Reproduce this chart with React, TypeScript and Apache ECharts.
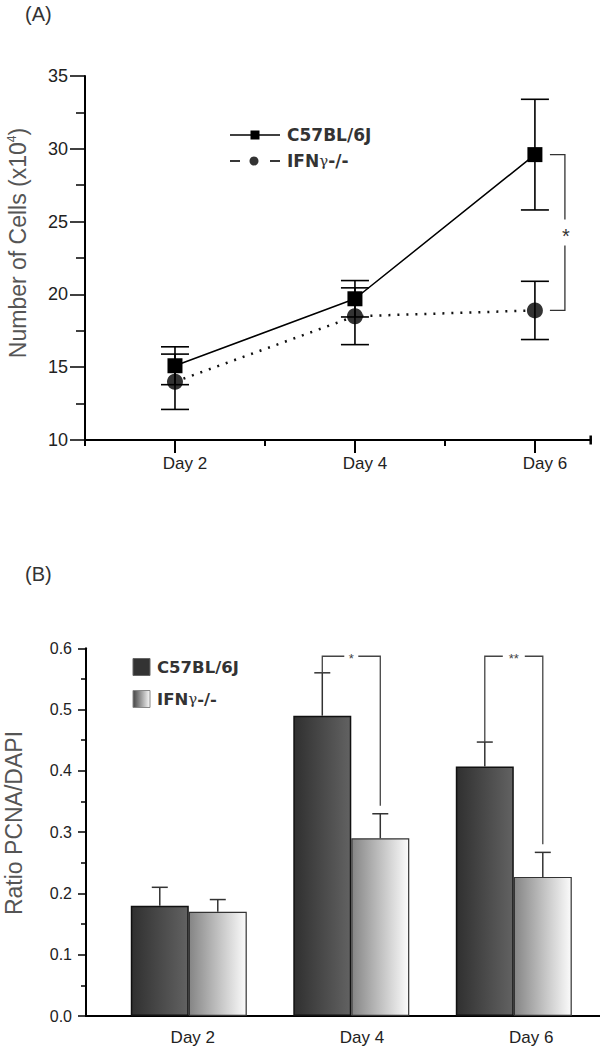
import React, { useEffect, useRef } from 'react';
import * as echarts from 'echarts';

// ---------- Panel A data ----------
const daysA = [2, 4, 6];
const c57Mean = [15.1, 19.7, 29.6];
const c57Err = [1.3, 1.25, 3.8];
const ifnMean = [14.0, 18.5, 18.9];
const ifnErr = [1.9, 1.95, 2.0];
const sigDayA = 6;
const sigLabelA = '*';

// ---------- Panel B data ----------
const daysB = [2, 4, 6];
const c57Ratio = [0.18, 0.49, 0.407];
const c57RatioErr = [0.03, 0.07, 0.04];
const ifnRatio = [0.17, 0.29, 0.227];
const ifnRatioErr = [0.02, 0.04, 0.04];
const sigDaysB = [4, 6];
const sigLabelsB = ['*', '**'];
const bracketLevelB = 0.587;

const dayLabels = [2, 4, 6];

const FONT = '"Liberation Sans", Arial, sans-serif';
const LEG_FONT = '"DejaVu Sans", "Liberation Sans", sans-serif';
const BAR_W = 58;

function errSeries(
  days: number[], mean: number[], err: number[], xi: number, yi: number,
  offset: number, capHalf: number, upOnly: boolean, color: string, width: number
) {
  return {
    type: 'custom',
    xAxisIndex: xi,
    yAxisIndex: yi,
    z: 10,
    silent: true,
    data: days.map((d, i) => [d, mean[i], err[i]]),
    encode: { x: 0, y: 1 },
    renderItem: (params: any, api: any) => {
      const x = api.value(0);
      const m = api.value(1);
      const e = api.value(2);
      const top = api.coord([x, m + e]);
      const bot = api.coord([x, upOnly ? m : m - e]);
      const cx = top[0] + offset;
      const style = { stroke: color, lineWidth: width, fill: 'none' };
      const children: any[] = [
        { type: 'line', shape: { x1: cx, y1: top[1], x2: cx, y2: bot[1] }, style },
        { type: 'line', shape: { x1: cx - capHalf, y1: top[1], x2: cx + capHalf, y2: top[1] }, style },
      ];
      if (!upOnly) {
        children.push({ type: 'line', shape: { x1: cx - capHalf, y1: bot[1], x2: cx + capHalf, y2: bot[1] }, style });
      }
      return { type: 'group', children };
    },
  };
}

export default function App() {
  const ref = useRef<HTMLDivElement>(null);
  useEffect(() => {
    if (!ref.current) return;
    const chart = echarts.init(ref.current, null, { renderer: 'svg' });

    const gradDark = new echarts.graphic.LinearGradient(0, 0, 1, 0, [
      { offset: 0, color: '#303030' },
      { offset: 1, color: '#626262' },
    ]);
    const gradLight = new echarts.graphic.LinearGradient(0, 0, 1, 0, [
      { offset: 0, color: '#858585' },
      { offset: 1, color: '#fbfbfb' },
    ]);
    const gradLegend = new echarts.graphic.LinearGradient(0, 0, 1, 0, [
      { offset: 0, color: '#444' },
      { offset: 1, color: '#fafafa' },
    ]);

    const axisLineStyle = { color: '#000', width: 2 };
    const tickStyle = { color: '#000', width: 1.5 };

    const idxA = daysA.indexOf(sigDayA);

    const option: any = {
      animation: false,
      grid: [
        { left: 85, top: 76, width: 505.7, height: 364 },
        { left: 86, top: 648.3, width: 514, height: 367.7 },
      ],
      xAxis: [
        {
          type: 'value', gridIndex: 0, position: 'bottom', min: 1, max: 6.62, interval: 1,
          axisLine: { show: true, lineStyle: axisLineStyle, symbol: ['none', 'rect'], symbolSize: [9, 2.5] },
          axisTick: { show: true, customValues: dayLabels, length: 13, lineStyle: { color: '#000', width: 2 } },
          axisLabel: {
            show: true, customValues: dayLabels, formatter: 'Day {value}', fontSize: 17,
            color: '#222', margin: 15, padding: [0, 0, 0, 20], fontFamily: FONT,
          },
          splitLine: { show: false },
        },
        {
          type: 'value', gridIndex: 0, position: 'bottom', min: 1, max: 6.62, interval: 1,
          axisLine: { show: false },
          axisTick: { show: true, customValues: [1, 3, 5], length: 6, lineStyle: { color: '#000', width: 2 } },
          axisLabel: { show: false },
          splitLine: { show: false },
        },
        {
          type: 'value', gridIndex: 1, position: 'bottom', min: 0.735, max: 7.061,
          axisLine: { show: true, lineStyle: axisLineStyle },
          axisTick: { show: false },
          axisLabel: { show: false },
          splitLine: { show: false },
        },
        {
          type: 'value', gridIndex: 1, position: 'bottom', min: 0.737, max: 6.814,
          axisLine: { show: false },
          axisTick: { show: false },
          axisLabel: {
            show: true, customValues: dayLabels, formatter: 'Day {value}', fontSize: 17,
            color: '#222', margin: 13, fontFamily: FONT,
          },
          splitLine: { show: false },
        },
      ],
      yAxis: [
        {
          type: 'value', gridIndex: 0, min: 10, max: 35, interval: 5,
          axisLine: { show: true, lineStyle: axisLineStyle },
          axisTick: { show: true, length: 15, lineStyle: tickStyle },
          minorTick: { show: true, splitNumber: 2, length: 9, lineStyle: tickStyle },
          axisLabel: { fontSize: 18, color: '#222', margin: 17, fontFamily: FONT },
          splitLine: { show: false },
        },
        {
          type: 'value', gridIndex: 1, min: 0, max: 0.6, interval: 0.1,
          axisLine: { show: true, lineStyle: axisLineStyle },
          axisTick: { show: true, length: 8, lineStyle: tickStyle },
          minorTick: { show: true, splitNumber: 2, length: 5, lineStyle: tickStyle },
          axisLabel: { fontSize: 16, color: '#222', margin: 14, fontFamily: FONT, formatter: (v: number) => v.toFixed(1) },
          splitLine: { show: false },
        },
      ],
      series: [
        {
          type: 'line', name: 'C57BL/6J', xAxisIndex: 0, yAxisIndex: 0,
          data: daysA.map((d, i) => [d, c57Mean[i]]),
          symbol: 'rect', symbolSize: 15,
          itemStyle: { color: '#000' },
          lineStyle: { color: '#000', width: 1.5 },
          z: 5,
        },
        {
          type: 'line', name: 'IFNγ-/-', xAxisIndex: 0, yAxisIndex: 0,
          data: daysA.map((d, i) => [d, ifnMean[i]]),
          symbol: 'circle', symbolSize: 16,
          itemStyle: { color: '#333' },
          lineStyle: { color: '#111', width: 2.5, type: [2, 7] },
          z: 4,
        },
        errSeries(daysA, c57Mean, c57Err, 0, 0, 0, 14, false, '#000', 1.6),
        errSeries(daysA, ifnMean, ifnErr, 0, 0, 0, 14, false, '#000', 1.6),
        {
          type: 'custom', xAxisIndex: 0, yAxisIndex: 0, silent: true, z: 10,
          data: [[sigDayA, c57Mean[idxA], ifnMean[idxA]]],
          encode: { x: 0, y: 1 },
          renderItem: (params: any, api: any) => {
            const x = api.value(0);
            const p1 = api.coord([x, api.value(1)]);
            const p2 = api.coord([x, api.value(2)]);
            const xl = p1[0] + 15;
            const xr = p1[0] + 30;
            const mid = (p1[1] + p2[1]) / 2;
            const style = { stroke: '#333', lineWidth: 1.3, fill: 'none' };
            return {
              type: 'group',
              children: [
                { type: 'polyline', shape: { points: [[xl, p1[1]], [xr, p1[1]], [xr, mid - 13]] }, style },
                { type: 'polyline', shape: { points: [[xr, mid + 13], [xr, p2[1]], [xl, p2[1]]] }, style },
                {
                  type: 'text', x: xr + 1, y: mid + 3,
                  style: { text: sigLabelA, fontSize: 20, fill: '#333', align: 'center', verticalAlign: 'middle', textAlign: 'center', textVerticalAlign: 'middle', fontFamily: FONT },
                },
              ],
            };
          },
        },
        {
          type: 'bar', name: 'C57BL/6J', xAxisIndex: 2, yAxisIndex: 1,
          data: daysB.map((d, i) => [d, c57Ratio[i]]),
          barWidth: BAR_W, barGap: '0%',
          itemStyle: { color: gradDark, borderColor: '#111', borderWidth: 1.5 },
        },
        {
          type: 'bar', name: 'IFNγ-/-', xAxisIndex: 2, yAxisIndex: 1,
          data: daysB.map((d, i) => [d, ifnRatio[i]]),
          barWidth: BAR_W, barGap: '0%',
          itemStyle: { color: gradLight, borderColor: '#333', borderWidth: 1.2 },
        },
        errSeries(daysB, c57Ratio, c57RatioErr, 2, 1, -BAR_W / 2, 8, true, '#333', 1.5),
        errSeries(daysB, ifnRatio, ifnRatioErr, 2, 1, BAR_W / 2, 8, true, '#333', 1.5),
        {
          type: 'custom', xAxisIndex: 2, yAxisIndex: 1, silent: true, z: 10,
          data: sigDaysB.map((d, k) => {
            const i = daysB.indexOf(d);
            return [d, c57Ratio[i] + c57RatioErr[i], ifnRatio[i] + ifnRatioErr[i], k];
          }),
          encode: { x: 0, y: 1 },
          renderItem: (params: any, api: any) => {
            const x = api.value(0);
            const c = api.coord([x, api.value(1)]);
            const f = api.coord([x, api.value(2)]);
            const lv = api.coord([x, bracketLevelB]);
            const label = sigLabelsB[api.value(3)];
            const xl = c[0] - BAR_W / 2;
            const xr = c[0] + BAR_W / 2;
            const mid = c[0];
            const gap = label.length * 4 + 3;
            const style = { stroke: '#444', lineWidth: 1.3, fill: 'none' };
            return {
              type: 'group',
              children: [
                { type: 'polyline', shape: { points: [[xl, c[1]], [xl, lv[1]], [mid - gap, lv[1]]] }, style },
                { type: 'polyline', shape: { points: [[mid + gap, lv[1]], [xr, lv[1]], [xr, f[1] - 8]] }, style },
                {
                  type: 'text', x: mid, y: lv[1] + 2,
                  style: { text: label, fontSize: 13, fill: '#444', align: 'center', verticalAlign: 'middle', textAlign: 'center', textVerticalAlign: 'middle', fontFamily: FONT },
                },
              ],
            };
          },
        },
      ],
      graphic: [
        { type: 'text', x: 25, y: 14, style: { text: '(A)', fontSize: 20, fill: '#333', fontFamily: FONT, verticalAlign: 'middle', textVerticalAlign: 'middle' } },
        { type: 'text', x: 25, y: 574, style: { text: '(B)', fontSize: 20, fill: '#333', fontFamily: FONT, verticalAlign: 'middle', textVerticalAlign: 'middle' } },
        {
          type: 'text', x: 17.5, y: 243, rotation: Math.PI / 2,
          style: {
            text: '{a|Number of Cells (x10}{s|4}{a|)}',
            align: 'center', verticalAlign: 'middle', textAlign: 'center', textVerticalAlign: 'middle',
            fill: '#555', fontFamily: FONT, fontSize: 23,
            rich: {
              a: { fontSize: 23, fill: '#555', color: '#555', fontFamily: FONT },
              s: { fontSize: 12, fill: '#555', color: '#555', fontFamily: FONT, padding: [0, 0, 12, 0] },
            },
          },
        },
        {
          type: 'text', x: 14, y: 823, rotation: Math.PI / 2,
          style: {
            text: 'Ratio PCNA/DAPI', fontSize: 23, fill: '#555', fontFamily: FONT,
            align: 'center', verticalAlign: 'middle', textAlign: 'center', textVerticalAlign: 'middle',
          },
        },
        // Legend A
        { type: 'line', shape: { x1: 230, y1: 135, x2: 280, y2: 135 }, style: { stroke: '#000', lineWidth: 1.5 } },
        { type: 'rect', shape: { x: 250.5, y: 130.5, width: 9, height: 9 }, style: { fill: '#000' } },
        {
          type: 'text', x: 287, y: 135,
          style: { text: 'C57BL/6J', fontSize: 17, fontWeight: 'bold', fill: '#333', fontFamily: LEG_FONT, verticalAlign: 'middle', textVerticalAlign: 'middle' },
        },
        { type: 'line', shape: { x1: 230, y1: 161, x2: 240, y2: 161 }, style: { stroke: '#222', lineWidth: 1.8 } },
        { type: 'circle', shape: { cx: 254, cy: 161, r: 4.5 }, style: { fill: '#333' } },
        { type: 'line', shape: { x1: 270, y1: 161, x2: 280, y2: 161 }, style: { stroke: '#222', lineWidth: 1.8 } },
        {
          type: 'text', x: 287, y: 161,
          style: {
            text: '{b|IFN}{g|γ}{b|-/-}', fill: '#333', fontFamily: LEG_FONT, fontSize: 17,
            verticalAlign: 'middle', textVerticalAlign: 'middle',
            rich: {
              b: { fontSize: 17, fontWeight: 'bold', fill: '#333', color: '#333', fontFamily: LEG_FONT },
              g: { fontSize: 15, fontWeight: 'normal', fill: '#333', color: '#333', fontFamily: 'DejaVu Serif, serif' },
            },
          },
        },
        // Legend B
        { type: 'rect', shape: { x: 133, y: 658.5, width: 17, height: 17 }, style: { fill: '#333', stroke: '#666', lineWidth: 1 } },
        {
          type: 'text', x: 157, y: 667,
          style: { text: 'C57BL/6J', fontSize: 16.5, fontWeight: 'bold', fill: '#333', fontFamily: LEG_FONT, verticalAlign: 'middle', textVerticalAlign: 'middle' },
        },
        { type: 'rect', shape: { x: 133, y: 690.5, width: 17, height: 17 }, style: { fill: gradLegend, stroke: '#888', lineWidth: 1 } },
        {
          type: 'text', x: 157, y: 699,
          style: {
            text: '{b|IFN}{g|γ}{b|-/-}', fill: '#333', fontFamily: LEG_FONT, fontSize: 16.5,
            verticalAlign: 'middle', textVerticalAlign: 'middle',
            rich: {
              b: { fontSize: 16.5, fontWeight: 'bold', fill: '#333', color: '#333', fontFamily: LEG_FONT },
              g: { fontSize: 15, fontWeight: 'normal', fill: '#333', color: '#333', fontFamily: 'DejaVu Serif, serif' },
            },
          },
        },
      ],
    };

    chart.setOption(option);
    return () => chart.dispose();
  }, []);

  return <div ref={ref} style={{ position: 'absolute', left: 0, top: 0, width: 600, height: 1049, background: '#fff' }} />;
}
